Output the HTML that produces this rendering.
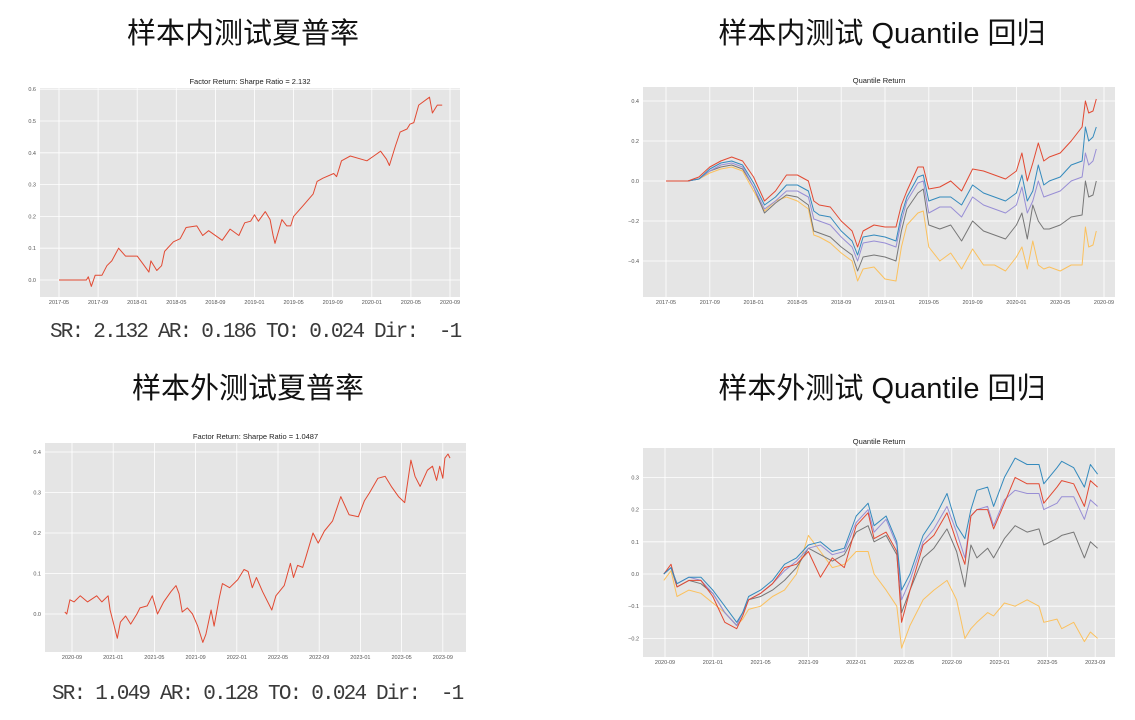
<!DOCTYPE html>
<html><head><meta charset="utf-8">
<style>
html,body{margin:0;padding:0;background:#fff;width:1135px;height:720px;overflow:hidden;position:relative}
.h{position:absolute;font-family:"Liberation Sans","Noto Sans CJK SC",sans-serif;font-size:29px;color:#111;white-space:nowrap;transform:translateX(-50%);line-height:1}
.sr{position:absolute;font-family:"Liberation Mono","DejaVu Sans Mono",monospace;font-size:21px;letter-spacing:-1.8px;color:#3a3a3a;white-space:pre;line-height:1}
svg{position:absolute;left:0;top:0}
</style></head><body>
<div class="h" style="left:243px;top:20px">样本内测试夏普率</div>
<div class="h" style="left:882px;top:20px">样本内测试 Quantile 回归</div>
<div class="h" style="left:248px;top:375px">样本外测试夏普率</div>
<div class="h" style="left:882px;top:375px">样本外测试 Quantile 回归</div>
<div class="sr" style="left:50px;top:322px">SR: 2.132 AR: 0.186 TO: 0.024 Dir:&nbsp; -1</div>
<div class="sr" style="left:52px;top:684px">SR: 1.049 AR: 0.128 TO: 0.024 Dir:&nbsp; -1</div>
<svg id="s" width="1135" height="720"></svg>
<script>
// ---- Chart 1 data (months since 2017-05) ----
const c1Months=[0,2.8,3,3.3,3.7,4.4,4.9,5.4,6.1,6.8,7.6,8,8.6,9.2,9.4,10,10.5,10.8,11.7,12.4,13,14.1,14.7,15.3,16.7,17.5,18.4,19,19.6,20,20.4,21.1,21.6,21.9,22.1,22.8,23.3,23.7,24,25,26,26.4,27,28.1,28.4,28.9,29.8,31.5,32.2,32.9,33.5,33.8,34.4,34.9,35.6,35.9,36.3,36.8,37.9,38.2,38.7,39.2];
const c1Values=[0,0,0.01,-0.02,0.015,0.015,0.045,0.06,0.1,0.075,0.075,0.075,0.05,0.025,0.06,0.03,0.045,0.09,0.12,0.13,0.165,0.17,0.14,0.155,0.125,0.16,0.14,0.18,0.185,0.205,0.185,0.215,0.19,0.14,0.115,0.19,0.17,0.17,0.2,0.235,0.27,0.31,0.32,0.335,0.325,0.375,0.39,0.375,0.39,0.405,0.38,0.36,0.42,0.465,0.475,0.49,0.495,0.55,0.575,0.525,0.55,0.55];
const c1YTicks=[0,0.1,0.2,0.3,0.4,0.5,0.6];
const inXLabels=["2017-05","2017-09","2018-01","2018-05","2018-09","2019-01","2019-05","2019-09","2020-01","2020-05","2020-09"];
// ---- Chart 2 data ----
const c2Months=[0,2,3,4,5,6,7,8,9,10,11,12,13,13.5,14,15,16,17,17.5,18,19,20,21,21.5,22,23,23.5,24,25,26,27,28,29,30,31,32,32.5,33,33.5,34,34.5,35,36,37,38,38.3,38.6,39,39.3];
const c2Red=[0,0,0.02,0.07,0.1,0.12,0.1,0.02,-0.1,-0.05,0.03,0.03,0,-0.1,-0.12,-0.13,-0.2,-0.25,-0.33,-0.25,-0.22,-0.23,-0.23,-0.12,-0.05,0.07,0.07,-0.04,-0.03,0,-0.05,0.06,0.05,0.03,0.01,0.05,0.14,0,0.09,0.19,0.1,0.12,0.14,0.2,0.27,0.4,0.34,0.35,0.41];
const c2Blue=[0,0,0.01,0.06,0.09,0.1,0.08,-0.01,-0.12,-0.08,-0.02,-0.02,-0.05,-0.15,-0.17,-0.18,-0.25,-0.3,-0.37,-0.28,-0.27,-0.28,-0.3,-0.17,-0.08,0.02,0.03,-0.1,-0.08,-0.08,-0.12,-0.02,-0.06,-0.08,-0.1,-0.06,0.03,-0.1,-0.05,0.08,-0.02,0,0.02,0.08,0.1,0.27,0.2,0.22,0.27];
const c2Purple=[0,0,0.01,0.05,0.08,0.09,0.07,-0.03,-0.14,-0.1,-0.05,-0.05,-0.08,-0.19,-0.2,-0.22,-0.28,-0.33,-0.4,-0.31,-0.3,-0.31,-0.33,-0.2,-0.1,-0.01,0,-0.16,-0.13,-0.13,-0.18,-0.08,-0.12,-0.14,-0.16,-0.12,-0.03,-0.16,-0.1,0,-0.08,-0.07,-0.05,0,0.02,0.14,0.08,0.1,0.16];
const c2Gray=[0,0,0.01,0.05,0.07,0.08,0.06,-0.03,-0.16,-0.11,-0.07,-0.08,-0.12,-0.25,-0.26,-0.28,-0.33,-0.37,-0.45,-0.38,-0.37,-0.38,-0.4,-0.25,-0.14,-0.06,-0.04,-0.22,-0.24,-0.22,-0.3,-0.2,-0.25,-0.27,-0.29,-0.22,-0.16,-0.29,-0.12,-0.2,-0.24,-0.24,-0.22,-0.18,-0.17,0,-0.08,-0.07,0];
const c2Yellow=[0,0,0.01,0.04,0.06,0.07,0.05,-0.05,-0.15,-0.1,-0.08,-0.1,-0.14,-0.27,-0.28,-0.31,-0.36,-0.4,-0.5,-0.44,-0.43,-0.49,-0.5,-0.33,-0.22,-0.16,-0.15,-0.33,-0.4,-0.36,-0.44,-0.34,-0.42,-0.42,-0.45,-0.38,-0.33,-0.44,-0.3,-0.42,-0.44,-0.43,-0.45,-0.42,-0.42,-0.23,-0.33,-0.32,-0.25];
const c2YTicks=[-0.4,-0.2,0,0.2,0.4];
// ---- Chart 3 data (months since 2020-09) ----
const c3Months=[-0.7,-0.5,-0.2,0.2,0.8,1.5,2.4,2.9,3.5,3.7,4,4.4,4.7,5.2,5.7,6.3,6.6,7.3,7.8,8.3,8.9,9.6,10.1,10.4,10.7,11.2,11.7,12.2,12.7,13,13.5,13.8,14.3,14.6,15.3,16.1,16.7,17.1,17.5,17.9,18.5,19.4,19.8,20.6,21.2,21.5,21.9,22.4,22.7,23.4,23.9,24.5,25.3,26.1,26.9,27.8,28.4,28.9,29.7,30.4,31,31.7,32.3,32.9,33.3,33.8,34.5,35,35.4,35.7,36,36.2,36.5,36.7];
const c3Values=[0.005,0,0.035,0.03,0.045,0.03,0.045,0.03,0.045,0.01,-0.02,-0.06,-0.02,-0.005,-0.025,0,0.015,0.02,0.045,0,0.03,0.055,0.07,0.05,0.005,0.015,0,-0.03,-0.07,-0.05,0.01,-0.03,0.04,0.075,0.065,0.085,0.11,0.105,0.065,0.09,0.055,0.01,0.045,0.07,0.125,0.09,0.12,0.115,0.14,0.2,0.175,0.205,0.23,0.29,0.245,0.24,0.28,0.3,0.335,0.34,0.315,0.29,0.275,0.38,0.34,0.315,0.355,0.365,0.33,0.365,0.335,0.385,0.395,0.385];
const c3YTicks=[0,0.1,0.2,0.3,0.4];
const outXLabels=["2020-09","2021-01","2021-05","2021-09","2022-01","2022-05","2022-09","2023-01","2023-05","2023-09"];
// ---- Chart 4 data ----
const c4Months=[-0.1,0.5,1,2,3,4,5,6,6.5,7,8,9,10,11,12,13,14,15,16,17,17.5,18.5,19.4,19.8,20.5,21.6,22.5,23.6,24.4,25.1,25.6,26.1,27,27.5,28.4,29.3,30.3,31.3,31.7,32.8,33.2,34.2,35.1,35.6,36.2];
const c4Blue=[0,0.02,-0.03,-0.01,-0.01,-0.05,-0.1,-0.15,-0.12,-0.07,-0.05,-0.02,0.03,0.05,0.09,0.1,0.07,0.08,0.18,0.22,0.15,0.18,0.1,-0.05,0,0.12,0.17,0.25,0.15,0.11,0.2,0.26,0.27,0.21,0.3,0.36,0.34,0.34,0.28,0.33,0.35,0.33,0.27,0.34,0.31];
const c4Red=[0,0.03,-0.04,-0.02,-0.02,-0.07,-0.15,-0.17,-0.13,-0.08,-0.06,-0.03,0.02,0.03,0.07,-0.01,0.05,0.02,0.15,0.19,0.11,0.13,0.07,-0.15,-0.05,0.09,0.12,0.19,0.1,0.03,0.18,0.2,0.2,0.14,0.22,0.3,0.28,0.28,0.22,0.27,0.29,0.28,0.21,0.29,0.27];
const c4Purple=[0,0.02,-0.03,-0.01,-0.02,-0.06,-0.12,-0.16,-0.12,-0.08,-0.06,-0.03,0.01,0.04,0.08,0.09,0.06,0.07,0.16,0.2,0.13,0.17,0.09,-0.08,-0.02,0.1,0.14,0.21,0.13,0.05,0.18,0.2,0.21,0.15,0.23,0.26,0.25,0.25,0.2,0.22,0.24,0.24,0.17,0.23,0.21];
const c4Gray=[0,0.02,-0.04,-0.02,-0.03,-0.06,-0.12,-0.16,-0.12,-0.08,-0.07,-0.05,-0.02,0.02,0.08,0.06,0.04,0.06,0.13,0.15,0.1,0.12,0.06,-0.12,-0.05,0.05,0.08,0.14,0.07,-0.04,0.09,0.05,0.08,0.05,0.11,0.15,0.13,0.14,0.09,0.11,0.12,0.13,0.05,0.1,0.08];
const c4Yellow=[-0.02,0.01,-0.07,-0.05,-0.06,-0.09,-0.12,-0.16,-0.14,-0.11,-0.1,-0.07,-0.05,0,0.12,0.07,0.02,0.03,0.07,0.07,0,-0.05,-0.1,-0.23,-0.16,-0.08,-0.05,-0.02,-0.08,-0.2,-0.17,-0.15,-0.12,-0.13,-0.09,-0.1,-0.08,-0.1,-0.15,-0.14,-0.17,-0.15,-0.21,-0.18,-0.2];
const c4YTicks=[-0.2,-0.1,0,0.1,0.2,0.3];

const NS="http://www.w3.org/2000/svg";
const svg=document.getElementById('s');
function mk(tag,attrs,parent){const e=document.createElementNS(NS,tag);for(const k in attrs)e.setAttribute(k,attrs[k]);(parent||svg).appendChild(e);return e;}
function fmt(v){return (v<0?"\u22120":"0")+"."+Math.round(Math.abs(v)*10);}

function chart(name,box,x,y,yTicks,xLabels,title,series){
  const g=mk('g',{});
  
  
  const bg=mk('rect',{x:box[0],y:box[1],width:box[2]-box[0],height:box[3]-box[1],fill:'#e5e5e5'},g);
  
  
  yTicks.forEach(v=>{
    const yy=y(v);
    const l=mk('line',{x1:box[0],x2:box[2],y1:yy,y2:yy,stroke:'#fff','stroke-width':0.8},g);
    
    
    const t=mk('text',{x:box[0]-4,y:yy+2,'font-size':5.5,'text-anchor':'end',fill:'#555','font-family':'Liberation Sans, sans-serif'},g);
    t.textContent=fmt(v);
    
    
  });
  xLabels.forEach((lab,i)=>{
    const xx=x(i*4);
    const l=mk('line',{x1:xx,x2:xx,y1:box[1],y2:box[3],stroke:'#fff','stroke-width':0.8},g);
    
    
    const t=mk('text',{x:xx,y:box[3]+7,'font-size':5.5,'text-anchor':'middle',fill:'#555','font-family':'Liberation Sans, sans-serif'},g);
    t.textContent=lab;
    
    
  });
  const tt=mk('text',{x:(box[0]+box[2])/2,y:box[1]-4,'font-size':7.5,'text-anchor':'middle',fill:'#222','font-family':'Liberation Sans, sans-serif'},g);
  tt.textContent=title;
  
  
  series.forEach(s=>{
    const d=s.months.map((m,i)=>(i?'L':'M')+x(m).toFixed(1)+','+y(s.vals[i]).toFixed(1)).join('');
    const p=mk('path',{d:d,fill:'none',stroke:s.color,'stroke-width':1,'stroke-linejoin':'round'},g);
    
    
  });
}
chart('in-sample-sharpe-chart',[40,88,460,297],m=>59+m*39.1/4,v=>280-v*318,c1YTicks,inXLabels,'Factor Return: Sharpe Ratio = 2.132',
  [{name:'factor-return-line',months:c1Months,vals:c1Values,color:'#E24A33'}]);
chart('in-sample-quantile-chart',[643,87,1115,297],m=>666+m*10.95,v=>181-v*200,c2YTicks,inXLabels,'Quantile Return',
  [{name:'quantile-yellow-line',months:c2Months,vals:c2Yellow,color:'#FBC15E'},
   {name:'quantile-gray-line',months:c2Months,vals:c2Gray,color:'#777777'},
   {name:'quantile-purple-line',months:c2Months,vals:c2Purple,color:'#988ED5'},
   {name:'quantile-blue-line',months:c2Months,vals:c2Blue,color:'#348ABD'},
   {name:'quantile-red-line',months:c2Months,vals:c2Red,color:'#E24A33'}]);
chart('out-sample-sharpe-chart',[45,443,466,652],m=>72+m*10.3,v=>614-v*405,c3YTicks,outXLabels,'Factor Return: Sharpe Ratio = 1.0487',
  [{name:'factor-return-line',months:c3Months,vals:c3Values,color:'#E24A33'}]);
chart('out-sample-quantile-chart',[643,448,1115,657],m=>665+m*11.95,v=>574-v*322,c4YTicks,outXLabels,'Quantile Return',
  [{name:'quantile-yellow-line',months:c4Months,vals:c4Yellow,color:'#FBC15E'},
   {name:'quantile-gray-line',months:c4Months,vals:c4Gray,color:'#777777'},
   {name:'quantile-purple-line',months:c4Months,vals:c4Purple,color:'#988ED5'},
   {name:'quantile-red-line',months:c4Months,vals:c4Red,color:'#E24A33'},
   {name:'quantile-blue-line',months:c4Months,vals:c4Blue,color:'#348ABD'}]);
</script>
</body></html>
